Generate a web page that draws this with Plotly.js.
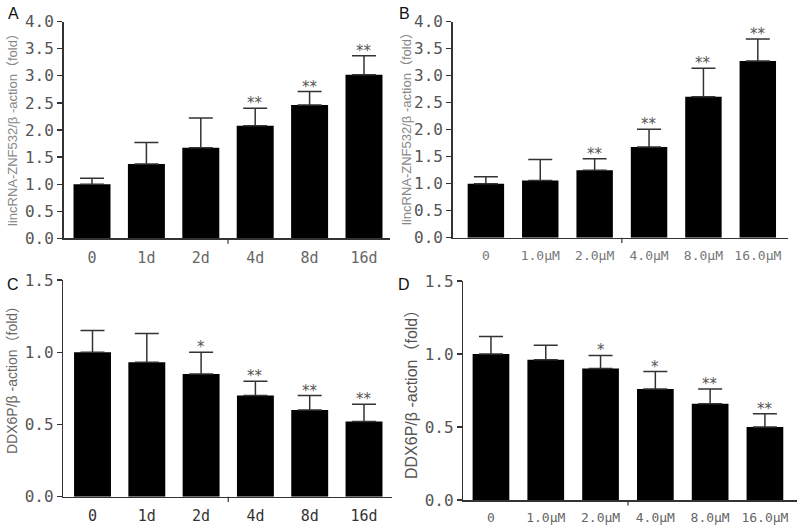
<!DOCTYPE html>
<html>
<head>
<meta charset="utf-8">
<script src="https://cdn.plot.ly/plotly-3.0.1.min.js"></script>
<style>html,body{margin:0;padding:0;background:#fff;}#chart{width:800px;height:531px;}</style>
</head>
<body>
<div id="chart"></div>
<script>
// ---- Data ----
const daysLabels = ["0", "1d", "2d", "4d", "8d", "16d"];
const doseLabels = ["0", "1.0μM", "2.0μM", "4.0μM", "8.0μM", "16.0μM"];

// Panel A: lincRNA-ZNF532 vs time
const aMean = [1.00, 1.37, 1.67, 2.08, 2.46, 3.02];
const aErr  = [0.11, 0.40, 0.55, 0.32, 0.25, 0.35];
const aSig  = ["", "", "", "**", "**", "**"];

// Panel B: lincRNA-ZNF532 vs dose
const bMean = [1.00, 1.06, 1.25, 1.68, 2.61, 3.27];
const bErr  = [0.13, 0.39, 0.21, 0.33, 0.53, 0.41];
const bSig  = ["", "", "**", "**", "**", "**"];

// Panel C: DDX6P vs time
const cMean = [1.00, 0.93, 0.85, 0.70, 0.60, 0.52];
const cErr  = [0.15, 0.20, 0.15, 0.10, 0.10, 0.12];
const cSig  = ["", "", "*", "**", "**", "**"];

// Panel D: DDX6P vs dose
const dMean = [1.00, 0.96, 0.90, 0.76, 0.66, 0.50];
const dErr  = [0.12, 0.10, 0.09, 0.12, 0.10, 0.09];
const dSig  = ["", "", "*", "*", "**", "**"];

const yTitleTop = "lincRNA-ZNF532/β -action（fold）";
const yTitleBottom = "DDX6P/β -action（fold）";
const panelLetters = ["A", "B", "C", "D"];

// ---- Build ----
const FONT = "DejaVu Sans Mono, Noto Sans CJK SC, monospace";
const AX = "#333";

function barTrace(cats, mean, err, xa, ya, width) {
  return {
    type: "bar", x: cats, y: mean, xaxis: xa, yaxis: ya,
    width: width,
    marker: {color: "#000", line: {width: 0}},
    error_y: {type: "data", array: err, symmetric: false,
              arrayminus: err.map(() => 0), color: "#333", thickness: 1.5, width: 12},
    showlegend: false, hoverinfo: "skip"
  };
}

const data = [
  barTrace(daysLabels, aMean, aErr, "x", "y", 0.68),
  barTrace(doseLabels, bMean, bErr, "x2", "y2", 0.67),
  barTrace(daysLabels, cMean, cErr, "x3", "y3", 0.68),
  barTrace(doseLabels, dMean, dErr, "x4", "y4", 0.67)
];

function xAxis(domain, range, anchor, color, size) {
  return {
    domain: domain, range: range, anchor: anchor, type: "category",
    showline: true, linecolor: AX, linewidth: 1.5,
    ticks: "outside", ticklen: 5, tickcolor: "rgba(0,0,0,0)",
    tickfont: {family: FONT, size: size, color: color},
    showgrid: false, zeroline: false, fixedrange: true
  };
}
function yAxis(domain, range, dtick, anchor) {
  return {
    domain: domain, range: range, anchor: anchor, dtick: dtick, tick0: 0,
    tickformat: ".1f",
    showline: true, linecolor: AX, linewidth: 1.5,
    ticks: "outside", ticklen: 5, tickwidth: 1.2, tickcolor: AX,
    tickfont: {family: FONT, size: 16, color: "#555"},
    showgrid: false, zeroline: false, fixedrange: true
  };
}

const W = 800, H = 531;
const px = v => v / W, py = v => 1 - v / H;

const layout = {
  width: W, height: H,
  margin: {l: 0, r: 0, t: 0, b: 0},
  paper_bgcolor: "#fff", plot_bgcolor: "#fff",
  bargap: 0.3,
  xaxis:  xAxis([px(63.5), px(390)], [-0.524, 5.478], "y", "#666", 15),
  yaxis:  yAxis([py(238.3), py(21.7)], [0, 4], 0.5, "x"),
  xaxis2: xAxis([px(452.7), px(788)], [-0.61, 5.555], "y2", "#777", 13),
  yaxis2: yAxis([py(237.7), py(21.7)], [0, 4], 0.5, "x2"),
  xaxis3: xAxis([px(63.3), px(391.7)], [-0.538, 5.51], "y3", "#333", 15),
  yaxis3: yAxis([py(496.7), py(280)], [0, 1.5], 0.5, "x3"),
  xaxis4: xAxis([px(463.3), px(796.7)], [-0.505, 5.58], "y4", "#666", 13),
  yaxis4: yAxis([py(500), py(281)], [0, 1.5], 0.5, "x4"),
  shapes: [],
  annotations: []
};

// middle tick marks below each x-axis
["x", "x2", "x3", "x4"].forEach((xa, i) => {
  const ya = ["y", "y2", "y3", "y4"][i];
  layout.shapes.push({type: "line", xref: xa, yref: ya + " domain",
    x0: 2.5, x1: 2.5, y0: 0, y1: -0.025, line: {color: AX, width: 1.2}});
});

// significance stars
const sets = [
  [daysLabels, aMean, aErr, aSig, "x", "y"],
  [doseLabels, bMean, bErr, bSig, "x2", "y2"],
  [daysLabels, cMean, cErr, cSig, "x3", "y3"],
  [doseLabels, dMean, dErr, dSig, "x4", "y4"]
];
sets.forEach(([cats, m, e, s, xa, ya]) => {
  cats.forEach((c, i) => {
    if (!s[i]) return;
    layout.annotations.push({
      xref: xa, yref: ya, x: c, y: m[i] + e[i], text: s[i],
      showarrow: false, yanchor: "bottom", yshift: -6,
      font: {family: "DejaVu Sans", size: 15, color: "#555"}
    });
  });
});

// y-axis titles
const titles = [
  [yTitleTop, 12, 127, 13, "#888"],
  [yTitleTop, 406, 125, 13, "#888"],
  [yTitleBottom, 12, 377, 14, "#666"],
  [yTitleBottom, 411, 391, 16, "#555"]
];
titles.forEach(([t, x, y, sz, col]) => {
  layout.annotations.push({
    xref: "paper", yref: "paper", x: px(x), y: py(y), text: t,
    textangle: -90, showarrow: false, xanchor: "center", yanchor: "middle",
    font: {family: "Liberation Sans, Noto Sans CJK SC, sans-serif", size: sz, color: col}
  });
});

// panel letters
const letterPos = [[13, 13], [404, 13], [13, 284], [404, 284]];
panelLetters.forEach((L, i) => {
  layout.annotations.push({
    xref: "paper", yref: "paper", x: px(letterPos[i][0]), y: py(letterPos[i][1]),
    text: L, showarrow: false, xanchor: "center", yanchor: "middle",
    font: {family: "Liberation Sans, sans-serif", size: 16, color: "#111"}
  });
});

Plotly.newPlot("chart", data, layout, {staticPlot: true, displayModeBar: false});
</script>
</body>
</html>
